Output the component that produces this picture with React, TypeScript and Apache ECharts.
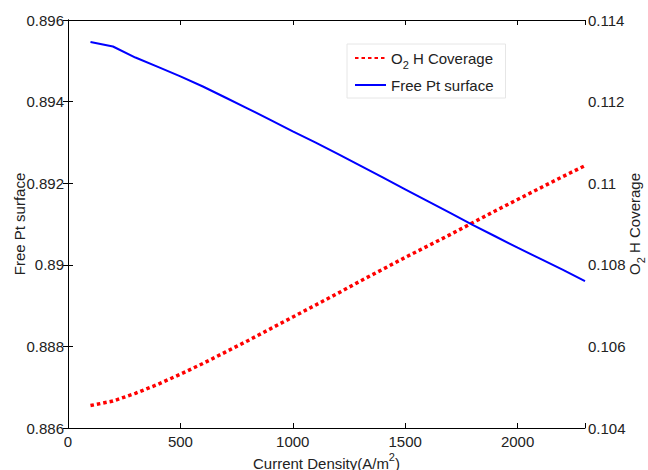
import React, { useEffect, useRef } from "react";
import * as echarts from "echarts";

const currentDensity = [100, 200, 300, 400, 500, 600, 700, 800, 900, 1000, 1100, 1200, 1300, 1400, 1500, 1600, 1700, 1800, 1900, 2000, 2100, 2200, 2300];
const freePt = [0.89546, 0.89535, 0.89508, 0.89485, 0.89462, 0.89437, 0.8941, 0.89383, 0.89355, 0.89327, 0.893, 0.89272, 0.89243, 0.89214, 0.89185, 0.89156, 0.89127, 0.89098, 0.8907, 0.89042, 0.89015, 0.88988, 0.8896];
const o2hCoverage = [0.10455, 0.10466, 0.10485, 0.10507, 0.10532, 0.10558, 0.10586, 0.10614, 0.10643, 0.10672, 0.10701, 0.1073, 0.1076, 0.10789, 0.10818, 0.10846, 0.10874, 0.10903, 0.10932, 0.1096, 0.10988, 0.11016, 0.11043];
const xTicks = [0, 500, 1000, 1500, 2000];

const FONT = "'Liberation Sans', Arial, Helvetica, sans-serif";
const TXT = "#222";

export default function App() {
  const ref = useRef<HTMLDivElement>(null);
  useEffect(() => {
    if (!ref.current) return;
    const chart = echarts.init(ref.current, undefined, { renderer: "svg" });
    const fmt3 = (v: number) => parseFloat(v.toFixed(3)).toString();
    const xFmt = (v: number) => (xTicks.includes(Math.round(v)) ? String(Math.round(v)) : "");
    const axisCommon = {
      axisLine: { show: true, lineStyle: { color: "#000", width: 1 } },
      axisTick: { show: true, inside: true, length: 5, lineStyle: { color: "#000" } },
      splitLine: { show: false },
      nameMoveOverlap: false,
    };
    const subStyle = { fontSize: 11, verticalAlign: "bottom", lineHeight: 10, fontFamily: FONT, color: TXT };
    chart.setOption({
      animation: false,
      textStyle: { fontFamily: FONT },
      grid: { left: 68, right: 63, top: 20, bottom: 42, outerBoundsMode: "none", containLabel: false },
      legend: {
        orient: "vertical",
        left: 347,
        top: 44,
        padding: [2, 12, 1, 7],
        itemWidth: 31,
        itemHeight: 14,
        itemGap: 3,
        borderColor: "#e6e6e6",
        borderWidth: 1,
        backgroundColor: "#fff",
        itemStyle: { opacity: 0, color: "rgba(0,0,0,0)", borderColor: "rgba(0,0,0,0)", borderWidth: 0 },
        textStyle: {
          fontSize: 15,
          lineHeight: 24,
          color: TXT,
          fontFamily: FONT,
          rich: { sub: subStyle },
        },
        formatter: (name: string) => (name === "O2 H Coverage" ? "O{sub|2} H Coverage" : name),
        data: ["O2 H Coverage", "Free Pt surface"],
      },
      xAxis: [
        {
          type: "value",
          min: 0,
          max: 2300,
          interval: 500,
          position: "bottom",
          ...axisCommon,
          axisLabel: { fontSize: 15, color: TXT, margin: 6, formatter: xFmt, fontFamily: FONT },
          name: "Current Density(A/m{sup|2})",
          nameLocation: "middle",
          nameGap: 23,
          nameTextStyle: {
            fontSize: 15,
            lineHeight: 24,
            color: TXT,
            fontFamily: FONT,
            rich: { sup: { fontSize: 11, verticalAlign: "top", lineHeight: 12, fontFamily: FONT, color: TXT } },
          },
        },
        {
          type: "value",
          min: 0,
          max: 2300,
          interval: 500,
          position: "top",
          ...axisCommon,
          axisLabel: { show: false },
        },
      ],
      yAxis: [
        {
          type: "value",
          min: 0.886,
          max: 0.896,
          interval: 0.002,
          position: "left",
          ...axisCommon,
          axisLabel: { fontSize: 15, color: TXT, margin: 4, formatter: fmt3, fontFamily: FONT },
          name: "Free Pt surface",
          nameLocation: "middle",
          nameRotate: 90,
          nameGap: 41,
          nameTextStyle: { fontSize: 15, color: TXT, fontFamily: FONT },
        },
        {
          type: "value",
          min: 0.104,
          max: 0.114,
          interval: 0.002,
          position: "right",
          ...axisCommon,
          axisLabel: { fontSize: 15, color: TXT, margin: 3, formatter: fmt3, fontFamily: FONT },
          name: "O{sub|2} H Coverage",
          nameLocation: "middle",
          nameRotate: 90,
          nameGap: 37,
          nameTextStyle: {
            fontSize: 15,
            lineHeight: 24,
            color: TXT,
            fontFamily: FONT,
            rich: { sub: subStyle },
          },
        },
      ],
      series: [
        {
          name: "O2 H Coverage",
          type: "line",
          xAxisIndex: 0,
          yAxisIndex: 1,
          data: currentDensity.map((x, i) => [x, o2hCoverage[i]]),
          showSymbol: false,
          symbol: "none",
          lineStyle: { color: "#ff0000", width: 3.5, type: [3.5, 3] },
          itemStyle: { color: "#ff0000" },
        },
        {
          name: "Free Pt surface",
          type: "line",
          xAxisIndex: 0,
          yAxisIndex: 0,
          data: currentDensity.map((x, i) => [x, freePt[i]]),
          showSymbol: false,
          symbol: "none",
          lineStyle: { color: "#0000ff", width: 2 },
          itemStyle: { color: "#0000ff" },
        },
      ],
    });
    return () => chart.dispose();
  }, []);
  return <div ref={ref} style={{ width: 648, height: 470, position: "absolute", left: 0, top: 0, background: "#fff" }} />;
}
